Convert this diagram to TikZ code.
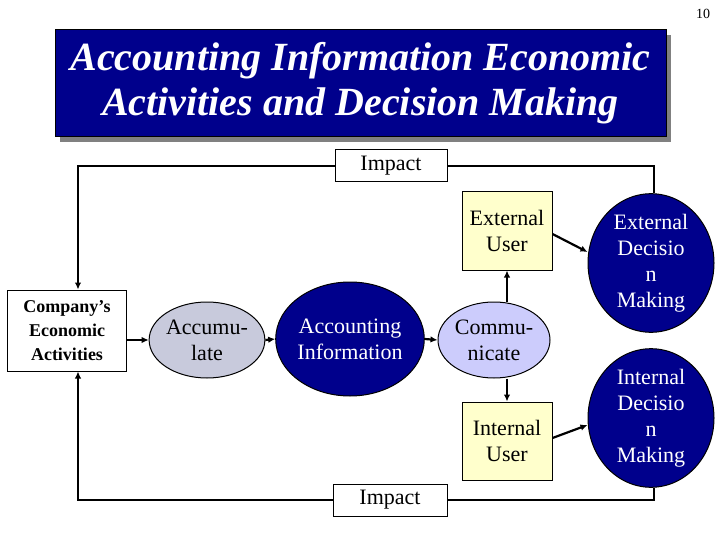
\documentclass[tikz,border=0pt]{standalone}
\usepackage{fontspec}
\setmainfont{Liberation Serif}
\usetikzlibrary{shapes.geometric,arrows.meta}
\definecolor{navy}{RGB}{0,0,140}
\definecolor{accgray}{RGB}{200,202,220}
\definecolor{lavender}{RGB}{204,204,252}
\definecolor{paleyellow}{RGB}{255,255,204}
\definecolor{shadowgray}{RGB}{128,128,128}
\tikzset{
  txt/.style={font=\fontsize{22}{26}\selectfont, align=center},
  whitebox/.style={draw, line width=1pt, fill=white, inner sep=0pt},
  userbox/.style={draw, line width=1pt, fill=paleyellow, minimum width=90pt, minimum height=78pt, inner sep=0pt, txt},
  oval/.style={ellipse, draw, line width=1pt, inner sep=0pt, txt},
  conn/.style={line width=2.2pt},
  arr/.style={line width=2.2pt, -{Latex[length=7pt,width=6.5pt]}},
}
\begin{document}
\begin{tikzpicture}[x=1pt,y=-1pt]
\useasboundingbox (0,0) rectangle (720,540);
% page number
\node[font=\fontsize{14}{16}\selectfont] (pg) at (703,14) {10};
% title
\fill[shadowgray] (60,35) rectangle (671,142);
\node[draw=black, line width=1pt, fill=navy, minimum width=611pt, minimum height=107pt, inner sep=0pt,
  text=white, font=\fontsize{40}{45}\bfseries\itshape\selectfont, align=center]
  (title) at (360.5,83.5) {Accounting Information Economic\\Activities and Decision Making};
% nodes
\node[whitebox, minimum width=119pt, minimum height=81pt, font=\fontsize{18}{24}\bfseries\selectfont, align=center]
  (comp) at (67,330.5) {Company’s\\Economic\\Activities};
\node[oval, fill=accgray, minimum width=115pt, minimum height=76pt] (accum) at (207,340) {Accumu-\\late};
\node[oval, fill=navy, text=white, minimum width=126pt, minimum height=114pt] (info) at (350,339) {Accounting\\Information};
\node[oval, fill=lavender, minimum width=112pt, minimum height=76pt] (comm) at (494,340) {Commu-\\nicate};
\node[userbox] (ext) at (507,231) {External\\User};
\node[userbox] (int) at (507,441) {Internal\\User};
\node[oval, fill=navy, text=white, minimum width=126pt, minimum height=120pt] (extdec) at (651,263) {External\\Decisio\\n\\Making};
\node[oval, fill=navy, text=white, minimum width=126pt, minimum height=112pt] (intdec) at (651,418) {Internal\\Decisio\\n\\Making};
\node[whitebox, txt, minimum width=112pt, minimum height=32pt] (imptop) at (391,166) {Impact};
\node[whitebox, txt, minimum width=114pt, minimum height=32pt] (impbot) at (390,500) {Impact};
\coordinate (lx) at (78,0);
\coordinate (rx) at (654,0);
% connectors
\draw[arr] (comp.east |- accum.west) -- (accum.west);
\draw[arr] (accum.east) -- (info.west);
\draw[arr] (info.east) -- (comm.west);
\draw[arr] (comm.north -| ext.south) -- (ext.south);
\draw[arr] (comm.south -| int.north) -- (int.north);
\draw[arr] (ext.east |- 0,234) -- (extdec.west |- 0,252) ;
\draw[arr] (int.east |- 0,438) -- (intdec.west |- 0,425);
\draw[arr] (imptop.west) -| (comp.north -| lx);
\draw[conn] (imptop.east) -| (rx |- extdec.north);
\draw[arr] (impbot.west) -| (comp.south -| lx);
\draw[conn] (impbot.east) -| (rx |- intdec.south);
\end{tikzpicture}
\end{document}
